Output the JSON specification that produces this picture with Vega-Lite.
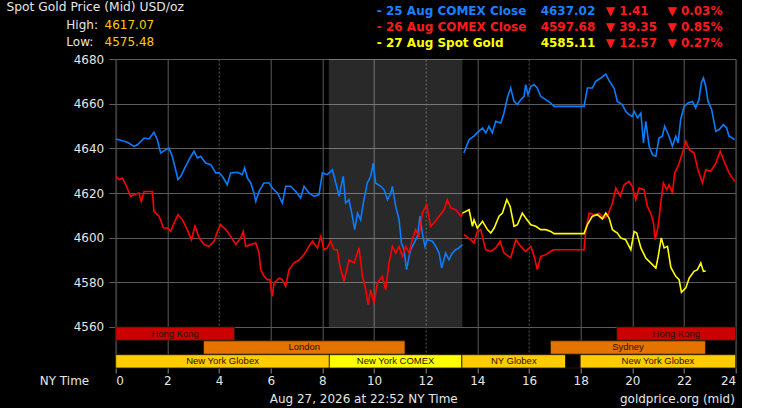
{
  "$schema": "https://vega.github.io/schema/vega-lite/v6.json",
  "background": "#000000",
  "padding": {"left": 5.7, "top": 0, "right": 5, "bottom": 0},
  "spacing": 0,
  "bounds": "flush",
  "resolve": {"scale": {"color": "independent"}},
  "config": {
    "view": {"stroke": null},
    "font": "DejaVu Sans"
  },
  "datasets": {
    "prices": [
      {"series": "25 Aug COMEX Close", "seg": "b1",
       "hour": [0,0.19,0.45,0.71,0.84,1.1,1.29,1.48,1.61,1.74,1.94,2.06,2.19,2.32,2.41,2.52,2.71,2.84,3.03,3.16,3.29,3.48,3.68,3.87,4.0,4.13,4.32,4.45,4.71,4.9,4.99,5.1,5.23,5.35,5.42,5.55,5.74,5.94,6.06,6.26,6.45,6.58,6.77,6.97,7.16,7.29,7.48,7.68,7.87,8.0,8.19,8.39,8.52,8.65,8.71,8.81,8.9,9.03,9.16,9.25,9.36,9.48,9.61,9.74,9.87,9.97,10.06,10.26,10.39,10.52,10.65,10.71,10.84,10.97,11.06,11.16,11.26,11.36,11.42,11.55,11.68,11.78,11.87,11.97,12.06,12.26,12.39,12.52,12.62,12.77,12.9,13.03,13.16,13.29,13.42],
       "price": [4644.2,4643.6,4642.7,4640.9,4641.6,4644.6,4644.2,4647.2,4643.9,4637.9,4639.4,4640.1,4636.4,4630.4,4626.0,4627.5,4632.0,4634.9,4638.7,4635.7,4636.4,4633.4,4632.7,4629.0,4629.0,4627.5,4623.7,4629.0,4629.3,4628.2,4631.2,4626.7,4624.5,4620.0,4616.3,4620.7,4624.5,4624.5,4622.2,4620.0,4615.5,4623.0,4623.0,4620.7,4617.8,4623.0,4620.0,4618.5,4619.3,4629.0,4628.2,4630.4,4624.5,4618.5,4622.2,4627.5,4615.5,4617.0,4609.6,4603.6,4611.0,4608.0,4617.0,4624.5,4627.5,4633.4,4624.5,4623.0,4621.5,4617.0,4620.0,4623.0,4614.0,4608.0,4597.6,4594.6,4585.7,4591.6,4594.6,4597.6,4600.6,4609.6,4602.1,4596.1,4599.1,4598.4,4596.1,4593.1,4586.4,4593.1,4590.1,4593.1,4594.6,4595.4,4596.9]},
      {"series": "25 Aug COMEX Close", "seg": "b2",
       "hour": [13.48,13.68,13.87,14.0,14.2,14.33,14.45,14.58,14.71,14.91,15.03,15.16,15.29,15.42,15.55,15.68,15.81,15.87,15.96,16.07,16.2,16.32,16.45,16.65,16.84,16.97,18.13,18.26,18.45,18.58,18.78,18.97,19.1,19.29,19.42,19.61,19.74,19.87,20.0,20.07,20.2,20.33,20.43,20.52,20.65,20.78,20.91,21.03,21.16,21.25,21.42,21.55,21.68,21.77,21.87,22.0,22.16,22.33,22.45,22.58,22.67,22.75,22.84,22.93,23.07,23.23,23.36,23.52,23.65,23.74,23.87,23.96],
       "price": [4637.9,4643.9,4645.5,4647.0,4649.1,4646.9,4649.9,4646.9,4652.1,4651.3,4655.8,4662.5,4667.0,4661.0,4659.6,4661.8,4663.3,4668.5,4664.0,4667.8,4668.5,4667.0,4663.3,4661.8,4660.3,4658.8,4658.8,4667.0,4667.0,4670.0,4671.5,4673.2,4670.3,4667.0,4661.0,4659.6,4656.6,4655.1,4654.3,4656.6,4653.6,4655.8,4642.4,4652.1,4640.9,4637.2,4636.4,4644.6,4645.4,4649.9,4645.4,4640.9,4645.4,4642.4,4652.8,4658.8,4660.3,4661.0,4658.1,4661.8,4669.3,4671.5,4667.8,4661.0,4657.3,4647.6,4648.4,4650.6,4649.1,4645.4,4644.6,4643.9]},
      {"series": "26 Aug COMEX Close", "seg": "r1",
       "hour": [0,0.13,0.26,0.39,0.58,0.71,0.9,0.99,1.1,1.29,1.42,1.48,1.68,1.85,2.0,2.13,2.26,2.41,2.58,2.77,2.93,3.07,3.23,3.42,3.61,3.81,3.94,4.06,4.26,4.45,4.65,4.84,4.94,5.03,5.23,5.42,5.55,5.61,5.74,5.87,5.97,6.06,6.13,6.32,6.45,6.58,6.71,6.9,7.1,7.29,7.48,7.61,7.81,7.94,8.06,8.19,8.32,8.45,8.58,8.68,8.84,9.03,9.23,9.42,9.55,9.68,9.77,9.87,10.0,10.13,10.32,10.45,10.58,10.71,10.84,10.97,11.1,11.23,11.36,11.48,11.61,11.74,11.87,12.04,12.19,12.32,12.52,12.71,12.84,12.97,13.16,13.36,13.42],
       "price": [4627.5,4626.0,4626.7,4623.7,4618.5,4619.3,4620.0,4616.3,4620.7,4620.7,4620.7,4611.8,4609.6,4604.3,4604.3,4602.8,4606.6,4610.3,4608.1,4603.6,4599.1,4605.1,4599.9,4596.9,4596.1,4598.4,4602.8,4605.8,4603.6,4600.6,4596.9,4599.9,4602.8,4596.1,4596.9,4597.6,4593.1,4585.7,4582.7,4581.2,4581.2,4573.7,4579.7,4581.9,4581.2,4578.2,4585.7,4588.7,4590.0,4592.4,4596.1,4598.4,4595.4,4600.6,4594.6,4595.4,4598.4,4594.6,4594.6,4587.2,4580.4,4590.1,4588.7,4595.4,4582.7,4576.7,4570.0,4576.7,4570.7,4579.7,4582.7,4576.7,4588.7,4596.1,4593.1,4596.1,4591.6,4596.1,4593.1,4599.1,4603.6,4600.6,4611.0,4614.8,4605.1,4606.6,4609.6,4612.5,4617.0,4613.3,4612.5,4609.6,4611.0]},
      {"series": "26 Aug COMEX Close", "seg": "r2",
       "hour": [13.48,13.74,13.87,14.0,14.13,14.32,14.52,14.71,14.88,15.03,15.29,15.49,15.68,15.87,16.07,16.2,16.32,16.45,16.65,16.84,16.97,18.13,18.2,18.33,18.52,18.71,18.91,19.03,19.23,19.36,19.53,19.68,19.87,20.0,20.13,20.26,20.45,20.58,20.71,20.82,20.88,21.0,21.1,21.2,21.33,21.42,21.55,21.64,21.77,21.94,22.07,22.2,22.39,22.54,22.71,22.84,23.03,23.23,23.4,23.55,23.74,23.96],
       "price": [4601.3,4599.1,4597.6,4602.8,4603.6,4594.6,4593.9,4595.4,4598.4,4593.1,4591.0,4599.1,4596.1,4593.9,4596.1,4591.6,4585.7,4591.6,4592.4,4593.9,4594.6,4594.6,4603.6,4611.0,4610.3,4611.0,4608.8,4609.6,4615.5,4622.2,4618.5,4623.7,4625.2,4622.9,4617.0,4622.2,4621.5,4614.0,4611.0,4606.6,4599.1,4605.1,4615.5,4624.5,4621.5,4623.7,4620.0,4629.0,4632.0,4637.9,4643.1,4639.4,4637.9,4630.4,4624.5,4630.4,4629.7,4633.4,4638.7,4634.2,4629.0,4625.2]},
      {"series": "27 Aug Spot Gold", "seg": "y1",
       "hour": [13.42,13.68,13.81,13.87,14.0,14.2,14.39,14.52,14.65,14.84,14.97,15.14,15.27,15.42,15.55,15.74,15.87,16.07,16.26,16.45,16.65,16.84,16.97,18.13,18.26,18.45,18.65,18.84,18.97,19.1,19.23,19.42,19.55,19.74,19.94,20.07,20.17,20.33,20.52,20.71,20.91,21.0,21.12,21.23,21.36,21.49,21.68,21.81,21.9,22.07,22.2,22.39,22.52,22.65,22.75,22.84],
       "price": [4611.0,4612.5,4605.1,4608.0,4604.3,4607.3,4603.6,4602.1,4604.3,4609.6,4611.0,4617.0,4614.0,4605.1,4605.8,4611.0,4608.8,4605.8,4605.1,4603.6,4603.6,4602.8,4601.8,4601.8,4605.8,4609.6,4610.3,4608.4,4611.0,4608.8,4603.6,4602.1,4599.9,4599.1,4594.6,4602.8,4602.1,4595.4,4590.9,4588.7,4586.4,4591.6,4599.9,4595.4,4596.1,4586.7,4582.7,4581.2,4575.5,4577.5,4581.9,4584.9,4585.7,4588.7,4584.9,4585.1]}
    ],
    "sessions": [
      {"row": "HK", "session": "Hong Kong", "start": 0, "end": 4.6},
      {"row": "HK", "session": "Hong Kong", "start": 19.4, "end": 24},
      {"row": "LS", "session": "London", "start": 3.4, "end": 11.2},
      {"row": "LS", "session": "Sydney", "start": 16.83, "end": 22.83},
      {"row": "NY", "session": "New York Globex", "start": 0, "end": 8.27},
      {"row": "NY", "session": "New York COMEX", "start": 8.27, "end": 13.4},
      {"row": "NY", "session": "NY Globex", "start": 13.4, "end": 17.42},
      {"row": "NY", "session": "closed", "start": 17.42, "end": 17.98},
      {"row": "NY", "session": "New York Globex", "start": 17.98, "end": 24}
    ],
    "legend": [
      {"row": 0, "series": "25 Aug COMEX Close", "name": "- 25 Aug COMEX Close", "value": "4637.02", "chg": "▼ 1.41", "pct": "▼ 0.03%"},
      {"row": 1, "series": "26 Aug COMEX Close", "name": "- 26 Aug COMEX Close", "value": "4597.68", "chg": "▼ 39.35", "pct": "▼ 0.85%"},
      {"row": 2, "series": "27 Aug Spot Gold", "name": "- 27 Aug Spot Gold", "value": "4585.11", "chg": "▼ 12.57", "pct": "▼ 0.27%"}
    ],
    "hilo": [
      {"row": 1, "label": "High:", "value": "4617.07"},
      {"row": 2, "label": "Low:", "value": "4575.48"}
    ]
  },
  "vconcat": [
    {
      "width": 620,
      "height": 59,
      "resolve": {"scale": {"y": "independent"}},
      "layer": [
        {
          "data": {"values": [{"row": 0, "text": "Spot Gold Price (Mid) USD/oz"}]},
          "mark": {"type": "text", "align": "left", "baseline": "middle", "fontSize": 12.3, "color": "#e6e6e6"},
          "encoding": {
            "x": {"datum": -4.23, "type": "quantitative", "scale": {"domain": [0, 24], "nice": false, "zero": false}, "axis": null},
            "y": {"field": "row", "type": "ordinal", "scale": {"type": "point", "domain": [0, 1, 2], "range": [7.3, 42.3], "padding": 0}, "axis": null},
            "text": {"field": "text"}
          }
        },
        {
          "data": {"name": "hilo"},
          "mark": {"type": "text", "align": "left", "baseline": "middle", "fontSize": 12, "color": "#e6e6e6"},
          "encoding": {
            "x": {"datum": -1.91, "type": "quantitative"},
            "y": {"field": "row", "type": "ordinal", "scale": {"type": "point", "domain": [0, 1, 2], "range": [7.3, 42.3], "padding": 0}, "axis": null},
            "text": {"field": "label"}
          }
        },
        {
          "data": {"name": "hilo"},
          "mark": {"type": "text", "align": "left", "baseline": "middle", "fontSize": 12, "color": "#ffcc00"},
          "encoding": {
            "x": {"datum": -0.43, "type": "quantitative"},
            "y": {"field": "row", "type": "ordinal", "scale": {"type": "point", "domain": [0, 1, 2], "range": [7.3, 42.3], "padding": 0}, "axis": null},
            "text": {"field": "value"}
          }
        },
        {
          "data": {"name": "legend"},
          "mark": {"type": "text", "align": "left", "baseline": "middle", "fontSize": 12, "fontWeight": "bold"},
          "encoding": {
            "x": {"datum": 10.11, "type": "quantitative"},
            "y": {"field": "row", "type": "ordinal", "scale": {"type": "point", "domain": [0, 1, 2], "range": [10.7, 43.3], "padding": 0}, "axis": null},
            "text": {"field": "name"},
            "color": {"field": "series", "type": "nominal", "scale": {"domain": ["25 Aug COMEX Close", "26 Aug COMEX Close", "27 Aug Spot Gold"], "range": ["#1a80ff", "#ff1a1a", "#ffff00"]}, "legend": null}
          }
        },
        {
          "data": {"name": "legend"},
          "mark": {"type": "text", "align": "left", "baseline": "middle", "fontSize": 12, "fontWeight": "bold"},
          "encoding": {
            "x": {"datum": 16.45, "type": "quantitative"},
            "y": {"field": "row", "type": "ordinal", "scale": {"type": "point", "domain": [0, 1, 2], "range": [10.7, 43.3], "padding": 0}, "axis": null},
            "text": {"field": "value"},
            "color": {"field": "series", "type": "nominal", "legend": null}
          }
        },
        {
          "data": {"name": "legend"},
          "mark": {"type": "text", "align": "left", "baseline": "middle", "fontSize": 12, "fontWeight": "bold", "color": "#ff1a1a"},
          "encoding": {
            "x": {"datum": 18.97, "type": "quantitative"},
            "y": {"field": "row", "type": "ordinal", "scale": {"type": "point", "domain": [0, 1, 2], "range": [10.7, 43.3], "padding": 0}, "axis": null},
            "text": {"field": "chg"}
          }
        },
        {
          "data": {"name": "legend"},
          "mark": {"type": "text", "align": "left", "baseline": "middle", "fontSize": 12, "fontWeight": "bold", "color": "#ff1a1a"},
          "encoding": {
            "x": {"datum": 21.36, "type": "quantitative"},
            "y": {"field": "row", "type": "ordinal", "scale": {"type": "point", "domain": [0, 1, 2], "range": [10.7, 43.3], "padding": 0}, "axis": null},
            "text": {"field": "pct"}
          }
        }
      ]
    },
    {
      "width": 620,
      "height": 268,
      "layer": [
        {
          "data": {"values": [{"start": 8.25, "end": 13.42}]},
          "mark": {"type": "rect", "color": "#ffffff", "opacity": 0.16},
          "encoding": {
            "x": {
              "field": "start", "type": "quantitative",
              "scale": {"domain": [0, 24], "nice": false, "zero": false},
              "axis": {
                "values": [0, 2, 4, 6, 8, 10, 12, 14, 16, 18, 20, 22, 24],
                "grid": true,
                "gridColor": {"condition": {"test": "datum.value == 0 || datum.value == 24", "value": "#3a3a3a"}, "value": "#5c5c5c"},
                "gridWidth": {"condition": {"test": "datum.value == 0 || datum.value == 24", "value": 2}, "value": 1},
                "gridDash": {"condition": {"test": "datum.value == 4 || datum.value == 12 || datum.value == 16", "value": [2, 2]}, "value": []},
                "labels": false, "ticks": false, "domain": false, "title": null
              }
            },
            "x2": {"field": "end"}
          }
        },
        {
          "data": {"name": "prices"},
          "transform": [{"flatten": ["hour", "price"]}],
          "mark": {"type": "line", "strokeWidth": 1.6, "clip": true},
          "encoding": {
            "x": {"field": "hour", "type": "quantitative"},
            "y": {
              "field": "price", "type": "quantitative",
              "scale": {"domain": [4560, 4680], "nice": false, "zero": false},
              "axis": {
                "values": [4560, 4580, 4600, 4620, 4640, 4660, 4680],
                "format": "d",
                "grid": true, "gridColor": "#5c5c5c", "domain": false,
                "tickColor": "#5c5c5c", "tickSize": 7, "labelPadding": 5,
                "labelColor": "#e6e6e6", "labelFontSize": 12, "title": null
              }
            },
            "color": {"field": "series", "type": "nominal", "scale": {"domain": ["25 Aug COMEX Close", "26 Aug COMEX Close", "27 Aug Spot Gold"], "range": ["#0a7cff", "#ff0000", "#ffff00"]}, "legend": null},
            "detail": {"field": "seg"}
          }
        }
      ]
    },
    {
      "width": 620,
      "height": 41,
      "data": {"name": "sessions"},
      "layer": [
        {
          "mark": {"type": "rect", "stroke": "#2a1a00", "strokeWidth": 0.8},
          "encoding": {
            "x": {
              "field": "start", "type": "quantitative",
              "scale": {"domain": [0, 24], "nice": false, "zero": false},
              "axis": {
                "values": [0, 2, 4, 6, 8, 10, 12, 14, 16, 18, 20, 22, 24],
                "grid": true,
                "gridColor": {"condition": {"test": "datum.value == 0 || datum.value == 24", "value": "#3a3a3a"}, "value": "#5c5c5c"},
                "gridWidth": {"condition": {"test": "datum.value == 0 || datum.value == 24", "value": 2}, "value": 1},
                "gridDash": {"condition": {"test": "datum.value == 4 || datum.value == 12 || datum.value == 16", "value": [2, 2]}, "value": []},
                "domain": false, "tickColor": "#888888", "tickSize": 5,
                "labelColor": "#e6e6e6", "labelFontSize": 12, "labelPadding": 3,
                "title": "NY Time", "titleColor": "#e6e6e6", "titleFontSize": 12, "titleFontWeight": "normal",
                "titleX": -27, "titleY": 8, "titleAlign": "right", "titleBaseline": "top", "titleAngle": 0
              }
            },
            "x2": {"field": "end"},
            "y": {"field": "row", "type": "nominal", "scale": {"domain": ["HK", "LS", "NY"], "paddingInner": 0.04, "paddingOuter": 0}, "axis": null},
            "color": {
              "field": "session", "type": "nominal",
              "scale": {
                "domain": ["Hong Kong", "London", "Sydney", "New York Globex", "New York COMEX", "NY Globex", "closed"],
                "range": ["#cc0000", "#e57300", "#e57300", "#ffcc00", "#ffff00", "#ffcc00", "#000000"]
              },
              "legend": null
            }
          }
        },
        {
          "transform": [
            {"filter": "datum.session != 'closed'"},
            {"calculate": "(datum.start + datum.end) / 2", "as": "mid"}
          ],
          "mark": {"type": "text", "font": "Liberation Sans", "fontSize": 9.5, "color": "#1a1200", "baseline": "middle"},
          "encoding": {
            "x": {"field": "mid", "type": "quantitative"},
            "y": {"field": "row", "type": "nominal"},
            "text": {"field": "session"}
          }
        }
      ]
    },
    {
      "width": 620,
      "height": 40,
      "data": {"values": [{"row": 0, "text": "Aug 27, 2026 at 22:52 NY Time", "side": "date"}, {"row": 0, "text": "goldprice.org (mid)", "side": "src"}]},
      "layer": [
        {
          "transform": [{"filter": "datum.side == 'date'"}],
          "mark": {"type": "text", "align": "center", "baseline": "middle", "fontSize": 12, "color": "#e6e6e6"},
          "encoding": {
            "x": {"datum": 9.6, "type": "quantitative", "scale": {"domain": [0, 24], "nice": false, "zero": false}, "axis": null},
            "y": {"field": "row", "type": "ordinal", "scale": {"type": "point", "domain": [0], "range": [31.2, 31.2]}, "axis": null},
            "text": {"field": "text"}
          }
        },
        {
          "transform": [{"filter": "datum.side == 'src'"}],
          "mark": {"type": "text", "align": "right", "baseline": "middle", "fontSize": 12, "color": "#e6e6e6"},
          "encoding": {
            "x": {"datum": 23.97, "type": "quantitative"},
            "y": {"field": "row", "type": "ordinal"},
            "text": {"field": "text"}
          }
        }
      ]
    }
  ]
}
